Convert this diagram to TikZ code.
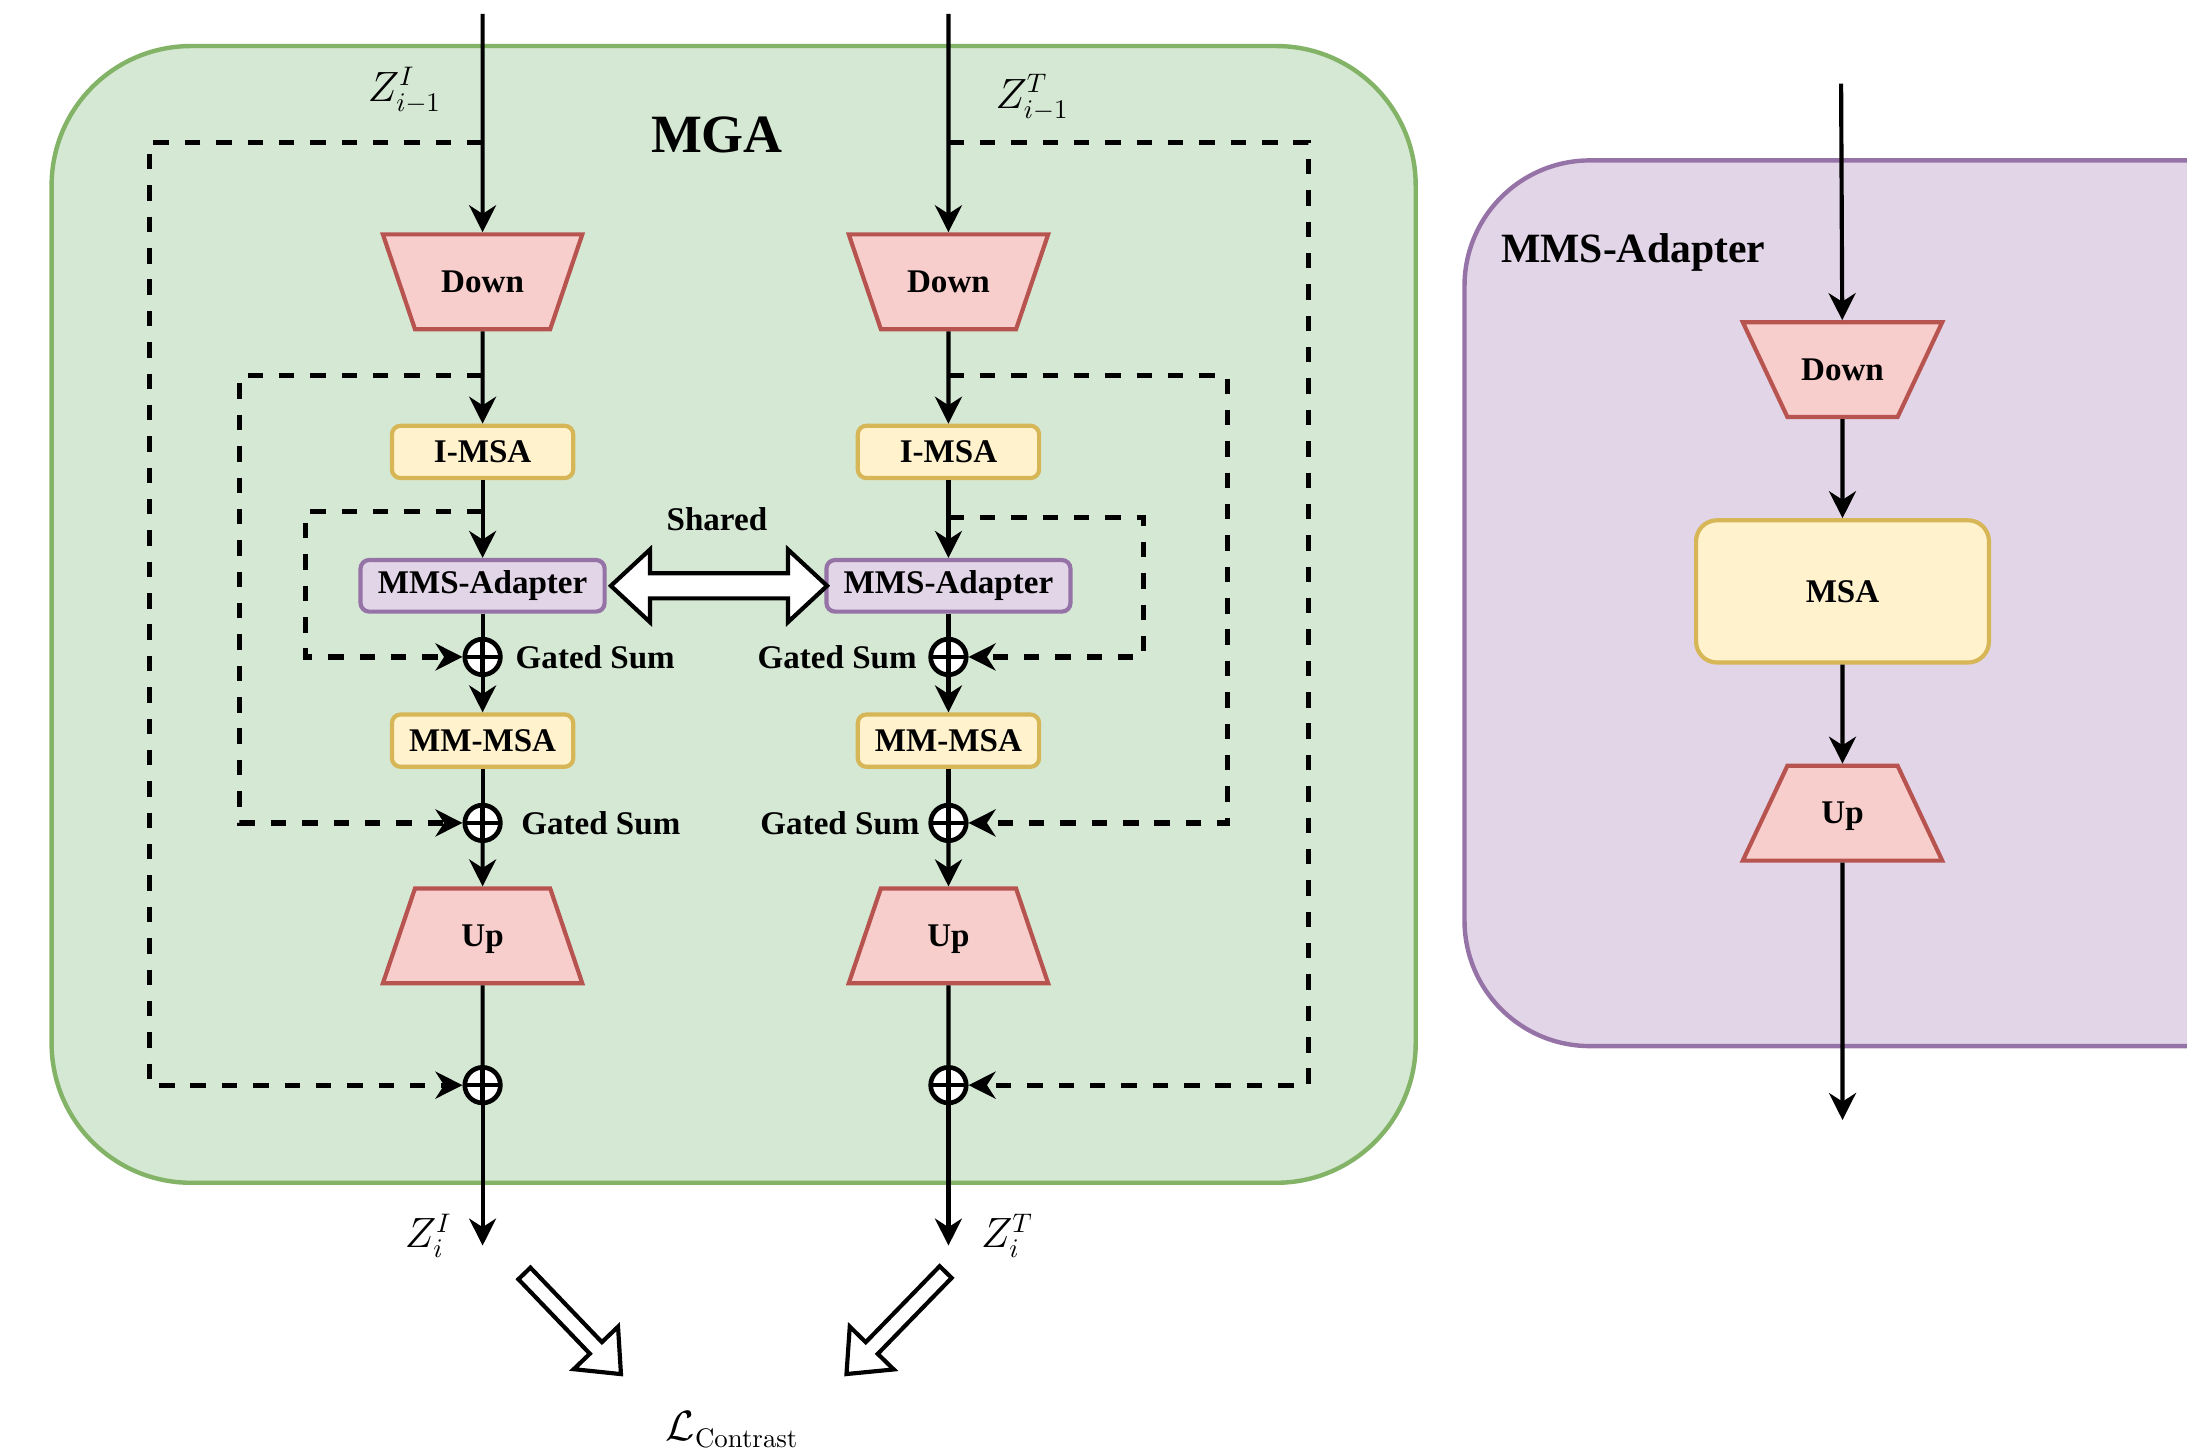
\documentclass[tikz,border=0pt]{standalone}
\usepackage[no-math]{fontspec}
\setmainfont{Liberation Serif}
\usetikzlibrary{arrows.meta,shapes.geometric}
\definecolor{mgafill}{HTML}{D5E8D4}
\definecolor{mgaline}{HTML}{82B366}
\definecolor{adpfill}{HTML}{E1D5E7}
\definecolor{adpline}{HTML}{9673A6}
\definecolor{trpfill}{HTML}{F8CECC}
\definecolor{trpline}{HTML}{B85450}
\definecolor{msafill}{HTML}{FFF2CC}
\definecolor{msaline}{HTML}{D6B656}
\tikzset{
  every node/.style={font=\fontsize{13.5}{16}\selectfont\bfseries, inner sep=0pt},
  flowline/.style={line width=1.7pt, -{Stealth[length=11pt,width=11pt,inset=3.5pt]}},
  feedline/.style={line width=1.7pt},
  skipline/.style={line width=2.1pt, dash pattern=on 6.3pt off 6.5pt, -{Stealth[length=11pt,width=11pt,inset=3.5pt]}},
  trap/.style={trapezium, trapezium stretches body, draw=trpline, fill=trpfill, line width=1.7pt,
    text height=0.835cm, text depth=0.525cm, minimum width=2.86cm, trapezium angle=71.3},
  downtrap/.style={trap, shape border rotate=180},
  uptrap/.style={trap},
  attn/.style={rectangle, rounded corners=3.5pt, draw=msaline, fill=msafill, line width=1.7pt,
    minimum width=2.6cm, minimum height=0.75cm},
  adapter/.style={rectangle, rounded corners=3.5pt, draw=adpline, fill=adpfill, line width=1.7pt,
    minimum width=3.5cm, minimum height=0.74cm},
  gsum/.style={circle, draw, fill=white, line width=1.9pt, minimum size=0.51cm,
    path picture={\draw[line width=1.9pt] (path picture bounding box.north) -- (path picture bounding box.south)
      (path picture bounding box.west) -- (path picture bounding box.east);}},
  mathlbl/.style={font=\fontsize{16}{19}\selectfont},
  hollow/.style={line width=1.7pt, fill=white, line join=miter}
}
\begin{document}
\begin{tikzpicture}[x=0.02cm,y=-0.02cm]
  \clip (0,0) rectangle (1568,1042);
  \draw[draw=mgaline, fill=mgafill, line width=1.8pt, rounded corners=2cm] (37,33) rectangle (1015,848);
  \draw[draw=adpline, fill=adpfill, line width=1.8pt, rounded corners=1.8cm] (1050,115) rectangle (1660,750);

  \node[font=\fontsize{22}{26}\selectfont\bfseries] (mga) at (514,97) {MGA};
  \node[anchor=west, font=\fontsize{17}{20}\selectfont\bfseries] (mmstitle) at (1076,181) {MMS-Adapter};
  \node (shared) at (514,372) {Shared};

  \coordinate (inL) at (346,10);
  \node[downtrap] (downL) at (346,202) {Down};
  \node[attn] (imsaL) at (346,324) {I-MSA};
  \node[adapter] (mmsL) at (346,420) {MMS-Adapter};
  \node[gsum] (gs1L) at (346,471) {};
  \node[attn] (mmmsaL) at (346,531) {MM-MSA};
  \node[gsum] (gs2L) at (346,590) {};
  \node[uptrap] (upL) at (346,671) {Up};
  \node[gsum] (addL) at (346,778) {};
  \coordinate (outL) at (346,893);

  \coordinate (inR) at (680,10);
  \node[downtrap] (downR) at (680,202) {Down};
  \node[attn] (imsaR) at (680,324) {I-MSA};
  \node[adapter] (mmsR) at (680,420) {MMS-Adapter};
  \node[gsum] (gs1R) at (680,471) {};
  \node[attn] (mmmsaR) at (680,531) {MM-MSA};
  \node[gsum] (gs2R) at (680,590) {};
  \node[uptrap] (upR) at (680,671) {Up};
  \node[gsum] (addR) at (680,778) {};
  \coordinate (outR) at (680,893);

  \node[anchor=west] (gs1Ltext) at ([xshift=0.18cm]gs1L.east) {Gated Sum};
  \node[anchor=west] (gs2Ltext) at ([xshift=0.26cm]gs2L.east) {Gated Sum};
  \node[anchor=east] (gs1Rtext) at ([xshift=-0.16cm]gs1R.west) {Gated Sum};
  \node[anchor=east] (gs2Rtext) at ([xshift=-0.12cm]gs2R.west) {Gated Sum};

  \node[mathlbl] (zinL) at (290,65) {$Z^{I}_{i-1}$};
  \node[mathlbl] (zinR) at (740,70) {$Z^{T}_{i-1}$};
  \node[mathlbl] (zoutL) at (307,886) {$Z^{I}_{i}$};
  \node[mathlbl] (zoutR) at (722,886) {$Z^{T}_{i}$};
  \node[mathlbl] (loss) at (525,1025) {$\mathcal{L}_{\mathrm{Contrast}}$};

  \draw[flowline] (inL) -- (downL);
  \draw[flowline] (downL) -- (imsaL);
  \draw[flowline] (imsaL) -- (mmsL);
  \draw[feedline] (mmsL) -- (gs1L);
  \draw[flowline] (gs1L) -- (mmmsaL);
  \draw[feedline] (mmmsaL) -- (gs2L);
  \draw[flowline] (gs2L) -- (upL);
  \draw[feedline] (upL) -- (addL);
  \draw[flowline] (addL) -- (outL);

  \draw[flowline] (inR) -- (downR);
  \draw[flowline] (downR) -- (imsaR);
  \draw[flowline] (imsaR) -- (mmsR);
  \draw[feedline] (mmsR) -- (gs1R);
  \draw[flowline] (gs1R) -- (mmmsaR);
  \draw[feedline] (mmmsaR) -- (gs2R);
  \draw[flowline] (gs2R) -- (upR);
  \draw[feedline] (upR) -- (addR);
  \draw[flowline] (addR) -- (outR);

  \coordinate (jL1) at (346,102);
  \coordinate (jL2) at (346,269);
  \coordinate (jL3) at (346,367);
  \coordinate (kL1) at (107,102);
  \coordinate (kL2) at (172,269);
  \coordinate (kL3) at (219,367);
  \coordinate (jR1) at (680,102);
  \coordinate (jR2) at (680,269);
  \coordinate (jR3) at (680,371);
  \coordinate (kR1) at (938,102);
  \coordinate (kR2) at (880,269);
  \coordinate (kR3) at (820,371);
  \draw[skipline] (jL1) -- (kL1) |- (addL);
  \draw[skipline] (jL2) -- (kL2) |- (gs2L);
  \draw[skipline] (jL3) -- (kL3) |- (gs1L);
  \draw[skipline] (jR1) -- (kR1) |- (addR);
  \draw[skipline] (jR2) -- (kR2) |- (gs2R);
  \draw[skipline] (jR3) -- (kR3) |- (gs1R);

  \draw[hollow] ([xshift=0.06cm]mmsL.east) -- ++(28,-26) -- ++(0,17) -- ++(99,0) -- ++(0,-17)
    -- ++(28,26) -- ++(-28,26) -- ++(0,-17) -- ++(-99,0) -- ++(0,17) -- cycle;

  \draw[hollow, shift={(376,913)}, rotate=-46.2] (0,-6) -- (74,-6) -- (74,-22) -- (100,0)
    -- (74,22) -- (74,6) -- (0,6) -- cycle;
  \draw[hollow, shift={(678,912)}, rotate=-134.2] (0,-6) -- (76,-6) -- (76,-22) -- (102,0)
    -- (76,22) -- (76,6) -- (0,6) -- cycle;

  \coordinate (inA) at (1320,60);
  \node[downtrap, trapezium angle=64.8] (downA) at (1321,265) {Down};
  \node[attn, minimum width=4.2cm, minimum height=2.04cm, rounded corners=0.3cm] (msaA) at (1321,424) {MSA};
  \node[uptrap, trapezium angle=64.8] (upA) at (1321,583) {Up};
  \coordinate (outA) at (1321,803);
  \draw[flowline] (inA) -- (downA);
  \draw[flowline] (downA) -- (msaA);
  \draw[flowline] (msaA) -- (upA);
  \draw[flowline] (upA) -- (outA);
\end{tikzpicture}
\end{document}
